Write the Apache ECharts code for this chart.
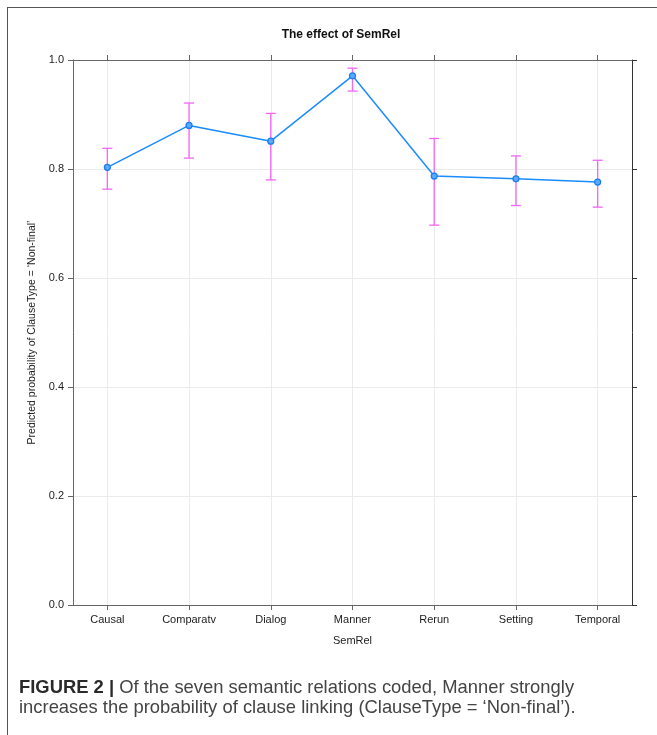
<!DOCTYPE html>
<html>
<head>
<meta charset="utf-8">
<script src="https://cdn.jsdelivr.net/npm/echarts@6/dist/echarts.min.js"></script>
<style>
  html, body { margin: 0; padding: 0; background: #fff; }
  #wrap { position: relative; width: 657px; height: 735px; overflow: hidden; }
  #frame { position: absolute; left: 7px; top: 7px; width: 700px; height: 800px;
           border-left: 1.5px solid #555; border-top: 1.5px solid #555; box-sizing: border-box; }
  #chart { position: absolute; left: 0; top: 0; width: 657px; height: 735px; }
  #caption { position: absolute; left: 19px; top: 677px; width: 640px; white-space: nowrap;
             font-family: "Liberation Sans", Arial, Helvetica, sans-serif; font-size: 18.4px;
             line-height: 20px; color: #444; }
  #caption b { color: #2a2a2a; }
</style>
</head>
<body>
<div id="wrap">
  <div id="frame"></div>
  <div id="chart"></div>
  <div id="caption"><b>FIGURE 2 |</b> Of the seven semantic relations coded, Manner strongly<br>increases the probability of clause linking (ClauseType = ‘Non-final’).</div>
</div>
<script>
const categories = ['Causal', 'Comparatv', 'Dialog', 'Manner', 'Rerun', 'Setting', 'Temporal'];
const predicted  = [0.803, 0.880, 0.851, 0.971, 0.787, 0.782, 0.776];
const lower      = [0.763, 0.820, 0.780, 0.943, 0.697, 0.733, 0.730];
const upper      = [0.838, 0.921, 0.902, 0.985, 0.856, 0.824, 0.816];
const yTicks     = [0, 0.2, 0.4, 0.6, 0.8, 1.0];

const catIdx = categories.map((c, i) => i);
const lineData = predicted.map((v, i) => [i, v]);
const errData = categories.map((c, i) => [i, lower[i], upper[i]]);

const font = '"Liberation Sans", Arial, Helvetica, sans-serif';
const axisColor = '#666';

const chart = echarts.init(document.getElementById('chart'), null, { renderer: 'canvas' });

const xCommon = {
  type: 'value', min: -0.42, max: 6.42,
  axisLine: { show: true, onZero: false, lineStyle: { color: axisColor, width: 1 } },
  axisTick: { show: true, inside: false, length: 5, customValues: catIdx, lineStyle: { color: axisColor } },
  splitLine: { show: false }
};

chart.setOption({
  animation: false,
  textStyle: { fontFamily: font },
  title: {
    text: 'The effect of SemRel',
    left: 336, top: 24, textAlign: 'center',
    textStyle: { fontSize: 12, fontWeight: 'bold', color: '#111', fontFamily: font }
  },
  grid: { left: 73, right: 25, top: 60, bottom: 130, containLabel: false },
  xAxis: [
    Object.assign({}, xCommon, {
      position: 'bottom',
      name: 'SemRel', nameLocation: 'middle', nameGap: 30,
      nameTextStyle: { fontSize: 11, color: '#222', fontFamily: font },
      axisLabel: { show: true, customValues: catIdx, margin: 9, fontSize: 11, color: '#222', fontFamily: font,
                   formatter: v => categories[Math.round(v)] },
      splitLine: { show: true, lineStyle: { color: '#ebebeb', width: 1 } }
    }),
    Object.assign({}, xCommon, {
      position: 'top',
      axisLabel: { show: false }
    })
  ],
  yAxis: [
    {
      type: 'value', min: 0, max: 1, interval: 0.2, position: 'left',
      name: 'Predicted probability of ClauseType = \u2018Non-final\u2019',
      nameLocation: 'middle', nameGap: 32, nameRotate: 90,
      nameTextStyle: { fontSize: 10.5, color: '#222', fontFamily: font },
      axisLine: { show: true, onZero: false, lineStyle: { color: axisColor } },
      axisTick: { show: true, inside: false, length: 5, lineStyle: { color: axisColor } },
      axisLabel: { fontSize: 11, color: '#222', margin: 9, fontFamily: font, formatter: v => v.toFixed(1) },
      splitLine: { show: true, lineStyle: { color: '#ebebeb', width: 1 } }
    },
    {
      type: 'value', min: 0, max: 1, interval: 0.2, position: 'right',
      axisLine: { show: true, onZero: false, lineStyle: { color: '#333' } },
      axisTick: { show: true, inside: false, length: 5, lineStyle: { color: '#333' } },
      axisLabel: { show: false },
      splitLine: { show: false }
    }
  ],
  series: [
    {
      type: 'custom',
      xAxisIndex: 0, yAxisIndex: 0,
      data: errData,
      z: 2,
      renderItem: function (params, api) {
        const x = api.value(0);
        const lo = api.coord([x, api.value(1)]);
        const hi = api.coord([x, api.value(2)]);
        const hw = 5;
        const style = { stroke: '#f266f2', lineWidth: 1.3, fill: null };
        return {
          type: 'group',
          children: [
            { type: 'line', shape: { x1: lo[0], y1: lo[1], x2: hi[0], y2: hi[1] }, style: style },
            { type: 'line', shape: { x1: lo[0] - hw, y1: lo[1], x2: lo[0] + hw, y2: lo[1] }, style: style },
            { type: 'line', shape: { x1: hi[0] - hw, y1: hi[1], x2: hi[0] + hw, y2: hi[1] }, style: style }
          ]
        };
      }
    },
    {
      type: 'line',
      xAxisIndex: 0, yAxisIndex: 0,
      data: lineData,
      z: 3,
      lineStyle: { color: '#1a8cff', width: 1.5 },
      itemStyle: { color: '#5aa9ff', borderColor: '#1a7cf0', borderWidth: 1.2 },
      symbol: 'circle', symbolSize: 6,
      showSymbol: true
    }
  ]
});
</script>
</body>
</html>
